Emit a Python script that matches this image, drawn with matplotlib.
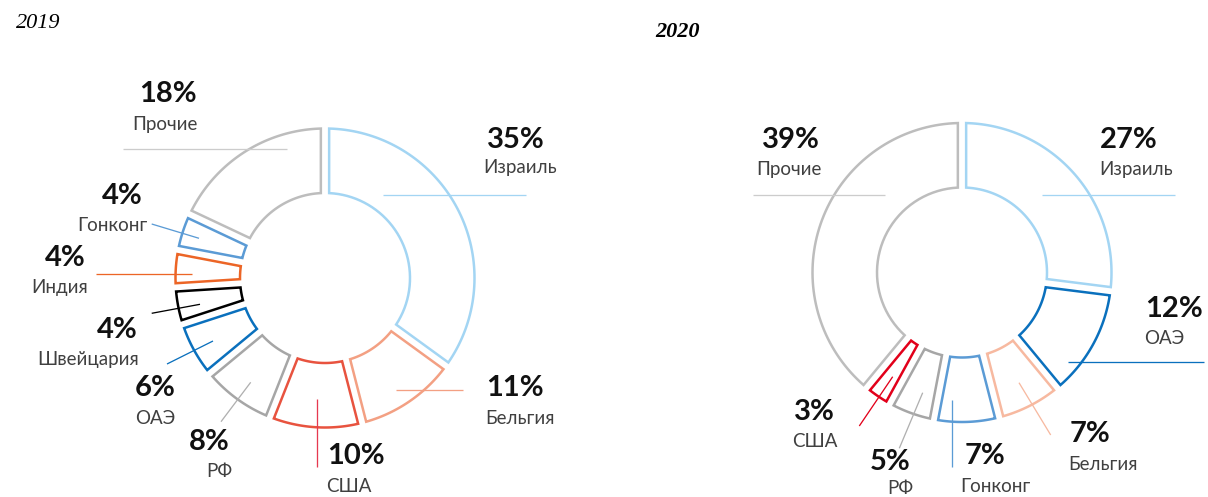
import matplotlib
matplotlib.use("Agg")
import numpy as np
import matplotlib.pyplot as plt
from matplotlib.patches import Polygon

# ---- data -------------------------------------------------------------
years = ["2019", "2020"]

countries_2019 = ["Израиль", "Бельгия", "США", "РФ", "ОАЭ",
                  "Швейцария", "Индия", "Гонконг", "Прочие"]
shares_2019 = [35, 11, 10, 8, 6, 4, 4, 4, 18]
colors_2019 = ["#a3d5f3", "#f3a083", "#e8533f", "#a6a6a6", "#0a70bd",
               "#000000", "#ec6526", "#5b9bd5", "#bdbdbd"]
leader_2019 = ["#a3d5f3", "#f3a083", "#e63950", "#b0b0b0", "#0a70bd",
               "#000000", "#ec6526", "#5b9bd5", "#cccccc"]

countries_2020 = ["Израиль", "ОАЭ", "Бельгия", "Гонконг", "РФ", "США", "Прочие"]
shares_2020 = [27, 12, 7, 7, 5, 3, 39]
colors_2020 = ["#a3d5f3", "#0a70bd", "#f7b9a0", "#5b9bd5", "#a6a6a6",
               "#e2001a", "#bdbdbd"]
leader_2020 = ["#a3d5f3", "#0a70bd", "#f7b9a0", "#5b9bd5", "#b0b0b0",
               "#e2001a", "#cccccc"]

# ---- layout (pixel coordinates, y grows downward) ----------------------
W, H = 1208, 497
centers = {"2019": (325, 278), "2020": (962, 272.5)}

# label anchor: (pct_x, pct_y, name_x, name_y), leader line: (x0, y0, x1, y1)
layout_2019 = {
    "Израиль":   ((516, 140, 520, 168), (383, 195.3, 526, 195.3)),
    "Бельгия":   ((515, 388, 520, 418), (396, 390.3, 463, 390.3)),
    "США":       ((355.5, 456, 349, 486), (316.7, 399.3, 316.7, 466.7)),
    "РФ":        ((209, 442.5, 219, 471.7), (250.7, 382.3, 221, 421.7)),
    "ОАЭ":       ((155, 388, 155, 418), (213, 341, 167, 364)),
    "Швейцария": ((117.5, 330.5, 88, 360), (200, 304.3, 151.7, 313.3)),
    "Индия":     ((65.3, 257.8, 59.8, 287), (192.3, 274.3, 96, 274.3)),
    "Гонконг":   ((122.5, 195.8, 112.5, 225.8), (199, 238.3, 151.7, 224)),
    "Прочие":    ((167.5, 94.5, 164.5, 124.5), (287, 149.3, 122.7, 149.3)),
}
layout_2020 = {
    "Израиль": ((1129, 140, 1135.8, 170), (1041.7, 195, 1175, 195)),
    "ОАЭ":     ((1174, 309, 1164, 338.8), (1068.3, 362.3, 1204, 362.3)),
    "Бельгия": ((1089.8, 433.7, 1103, 464), (1019, 382.7, 1050.7, 435)),
    "Гонконг": ((984.7, 455.5, 995.5, 486.5), (951.7, 400, 951.7, 466.7)),
    "РФ":      ((890, 462, 900.8, 488), (922.7, 392.7, 899.3, 448.3)),
    "США":     ((814.7, 411.7, 815, 441.7), (892.7, 376.7, 859.3, 426)),
    "Прочие":  ((791, 140, 788.8, 170), (885, 195, 752.7, 195)),
}

# ring geometry in pixels (1 data unit == 1 pixel)
outline_px = 2.5       # outline thickness
gap_px = 2.9           # half of the white gap between neighbouring segments
R_line, r_line = 149.5, 85.0
inset = gap_px + outline_px / 2
R_b = R_line + inset
r_b = r_line - inset
PT = 0.72              # points per pixel at dpi=100

fig = plt.figure(figsize=(W / 100, H / 100), dpi=100)
ax = fig.add_axes([0, 0, 1, 1])

pct_font = ["Lato", "Noto Sans", "DejaVu Sans"]
name_font = ["Lato", "Noto Sans", "DejaVu Sans"]


def inset_outline(wedge, d):
    """Outline of a ring segment shrunk by distance d from every side."""
    cx, cy = wedge.center
    ro, ri = wedge.r - d, wedge.r - wedge.width + d
    t1, t2 = np.deg2rad(wedge.theta1), np.deg2rad(wedge.theta2)
    ao, ai = np.arcsin(d / ro), np.arcsin(d / ri)
    outer = np.linspace(t1 + ao, t2 - ao, 80)
    inner = np.linspace(t2 - ai, t1 + ai, 40)
    xs = np.concatenate([cx + ro * np.cos(outer), cx + ri * np.cos(inner)])
    ys = np.concatenate([cy + ro * np.sin(outer), cy + ri * np.sin(inner)])
    return np.column_stack([xs, ys])


def ring(shares, colors, center):
    # y axis is inverted, so data-counterclockwise reads clockwise on screen
    wedges, _ = ax.pie(shares, radius=R_b, center=center, startangle=-90,
                       counterclock=True, frame=False,
                       wedgeprops=dict(width=R_b - r_b, facecolor="none",
                                       edgecolor="none", linewidth=0))
    for w, c in zip(wedges, colors):
        w.set_visible(False)
        ax.add_patch(Polygon(inset_outline(w, inset), closed=True,
                             fill=False, edgecolor=c,
                             linewidth=outline_px * PT, joinstyle="miter",
                             zorder=2))


def annotate(countries, shares, leaders, layout):
    for name, val, lc in zip(countries, shares, leaders):
        (px, py, nx, ny), (x0, y0, x1, y1) = layout[name]
        ax.plot([x0, x1], [y0, y1], color=lc, lw=1.3 * PT, zorder=4,
                solid_capstyle="butt")
        ax.text(px, py, f"{val}%", ha="center", va="center", fontsize=21,
                fontweight="bold", family=pct_font, color="#111111", zorder=5)
        ax.text(nx, ny, name, ha="center", va="center", fontsize=13.5,
                family=name_font, color="#404040", zorder=5)


ring(shares_2019, colors_2019, centers["2019"])
ring(shares_2020, colors_2020, centers["2020"])
annotate(countries_2019, shares_2019, leader_2019, layout_2019)
annotate(countries_2020, shares_2020, leader_2020, layout_2020)

ax.text(16, 23, years[0], ha="left", va="center", fontsize=16,
        family=["Liberation Serif", "DejaVu Serif"], style="italic",
        color="black")
ax.text(677.5, 32, years[1], ha="center", va="center", fontsize=16,
        family=["Liberation Serif", "DejaVu Serif"], style="italic",
        fontweight="bold", color="black")

ax.set_xlim(0, W)
ax.set_ylim(H, 0)
ax.set_aspect("equal")
ax.axis("off")

fig.savefig("out.png", dpi=100, facecolor="white")
